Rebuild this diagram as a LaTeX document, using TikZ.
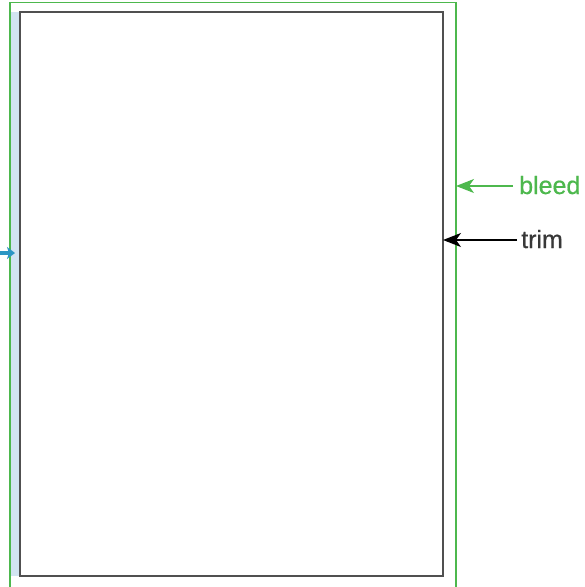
\documentclass[tikz,border=0pt]{standalone}
\usepackage{fontspec}
\setmainfont{Liberation Sans}[FakeBold=0.6]
\usetikzlibrary{arrows.meta}
\definecolor{bleedgreen}{HTML}{4DB84D}
\definecolor{trimgray}{HTML}{505050}
\definecolor{spineblue}{HTML}{D2E4F1}
\definecolor{arrowblue}{HTML}{2B96C4}
\begin{document}
\begin{tikzpicture}[x=1pt,y=-1pt,
  bleedline/.style={draw=bleedgreen,line width=1.3pt},
  trimline/.style={draw=trimgray,line width=1.5pt},
  callout/.style={line width=1.2pt,-{Stealth[length=18pt,width=14pt,inset=5pt]}},
  lbl/.style={font=\fontsize{25}{28}\selectfont,inner sep=0pt,anchor=base west}]
\useasboundingbox (0,0) rectangle (585,587);
\begin{scope}
\clip (0,0) rectangle (585,587);
\fill[spineblue] (10.5,12) rectangle (20,576);
\draw[bleedline] (10,600) -- (10,2.5) -- (456,2.5) -- (456,600);
\draw[trimline] (20,12) rectangle (443,576);
\coordinate (bleededge) at (456,186);
\coordinate (trimedge) at (443,240);
\coordinate (spineedge) at (15,253);
\coordinate (spinestart) at (-5,253);
\node[lbl,text=bleedgreen] (bleedlbl) at (519,194) {bleed};
\node[lbl,text=trimgray!70!black] (trimlbl) at (521,248) {trim};
\coordinate (bleedfrom) at (513,186);
\coordinate (trimfrom) at (517,240);
\draw[callout,bleedgreen] (bleedfrom) -- (bleededge);
\draw[callout,black] (trimfrom) -- (trimedge);
\draw[arrowblue,line width=4pt,-{Stealth[length=8pt,width=12pt,inset=2pt]}] (spinestart) -- (spineedge);
\end{scope}
\end{tikzpicture}
\end{document}
